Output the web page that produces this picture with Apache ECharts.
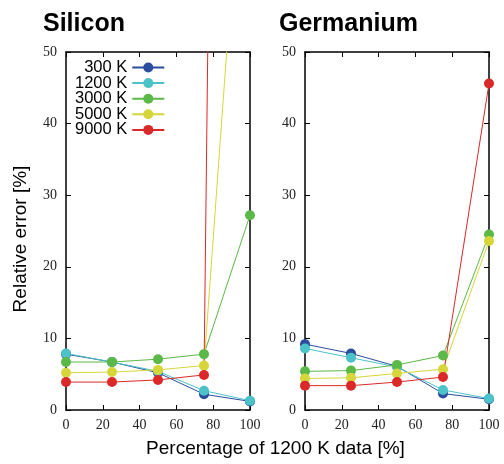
<!DOCTYPE html>
<html lang="en">
<head>
<meta charset="UTF-8" />
<title>Relative error</title>
<script src="https://cdn.jsdelivr.net/npm/echarts@6/dist/echarts.min.js"></script>
<style>
  html, body { margin: 0; padding: 0; background: #fff; }
  #main { width: 504px; height: 464px; }
</style>
</head>
<body>
<div id="main"></div>
<script>
// percentage of 1200 K data (x values)
var pct = [0, 25, 50, 75, 100];
var temps = ['300 K', '1200 K', '3000 K', '5000 K', '9000 K'];
var colors = ['#2a4d9e', '#4cc3c9', '#5bb947', '#d6d63a', '#db2828'];

// relative error [%], Silicon
var si300 = [7.8, 6.7, 5.2, 2.2, 1.2];
var si1200 = [7.9, 6.7, 5.4, 2.7, 1.3];
var si3000 = [6.7, 6.7, 7.1, 7.8, 27.2];
var si5000 = [5.2, 5.3, 5.6, 6.2, 95];
var si9000 = [3.9, 3.9, 4.2, 4.9, 560];

// relative error [%], Germanium
var ge300 = [9.2, 7.9, 6.1, 2.3, 1.5];
var ge1200 = [8.6, 7.3, 6.0, 2.8, 1.6];
var ge3000 = [5.4, 5.5, 6.3, 7.6, 24.5];
var ge5000 = [4.4, 4.5, 5.1, 5.7, 23.6];
var ge9000 = [3.4, 3.4, 3.9, 4.6, 45.6];

var siData = [si300, si1200, si3000, si5000, si9000];
var geData = [ge300, ge1200, ge3000, ge5000, ge9000];

var tickFont = 'Liberation Serif';
var textFont = 'Liberation Sans';

function xAxisFor(gridIndex, top) {
  return {
    type: 'value', gridIndex: gridIndex, position: top ? 'top' : 'bottom',
    min: 0, max: 100, interval: 20,
    axisLine: { show: true, onZero: false, lineStyle: { color: '#000', width: 1.5 } },
    axisTick: { show: true, inside: true, length: 5, lineStyle: { color: '#000', width: 1 } },
    axisLabel: { show: !top, margin: 8, color: '#222', fontSize: 14, fontFamily: tickFont },
    splitLine: { show: false }
  };
}
function yAxisFor(gridIndex, right) {
  return {
    type: 'value', gridIndex: gridIndex, position: right ? 'right' : 'left',
    min: 0, max: 50, interval: 10,
    axisLine: { show: true, onZero: false, lineStyle: { color: '#000', width: 1.5 } },
    axisTick: { show: true, inside: true, length: 5, lineStyle: { color: '#000', width: 1 } },
    axisLabel: { show: !right, margin: 9, color: '#222', fontSize: 14, fontFamily: tickFont },
    splitLine: { show: false }
  };
}

var series = [];
[siData, geData].forEach(function (set, g) {
  set.forEach(function (vals, i) {
    series.push({
      name: temps[i],
      type: 'line',
      xAxisIndex: g * 2,
      yAxisIndex: g * 2,
      data: pct.map(function (p, k) { return [p, vals[k]]; }),
      symbol: 'circle',
      symbolSize: 10,
      showAllSymbol: true,
      clip: true,
      lineStyle: { color: colors[i], width: 1 },
      itemStyle: { color: colors[i] },
      emphasis: { disabled: true },
      animation: false
    });
  });
});

var chart = echarts.init(document.getElementById('main'));
chart.setOption({
  backgroundColor: '#fff',
  animation: false,
  grid: [
    { left: 66, top: 52, width: 184, height: 358 },
    { left: 305, top: 52, width: 184, height: 358 }
  ],
  xAxis: [xAxisFor(0, false), xAxisFor(0, true), xAxisFor(1, false), xAxisFor(1, true)],
  yAxis: [yAxisFor(0, false), yAxisFor(0, true), yAxisFor(1, false), yAxisFor(1, true)],
  legend: {
    data: temps,
    orient: 'vertical',
    align: 'right',
    left: 75,
    top: 59,
    padding: 0,
    itemWidth: 32,
    itemHeight: 12.5,
    itemGap: -1.4,
    textStyle: { fontSize: 16.5, fontFamily: textFont, color: '#000', lineHeight: 15 }
  },
  graphic: [
    { type: 'text', x: 43, y: 24, style: { text: 'Silicon', font: 'bold 25px ' + textFont, fill: '#000', textVerticalAlign: 'middle' } },
    { type: 'text', x: 279, y: 24, style: { text: 'Germanium', font: 'bold 25px ' + textFont, fill: '#000', textVerticalAlign: 'middle' } },
    { type: 'text', x: 275.5, y: 449, style: { text: 'Percentage of 1200 K data [%]', font: '19px ' + textFont, fill: '#000', textAlign: 'center', textVerticalAlign: 'middle' } },
    { type: 'text', x: 21, y: 239, rotation: Math.PI / 2, style: { text: 'Relative error [%]', font: '19px ' + textFont, fill: '#000', textAlign: 'center', textVerticalAlign: 'middle' } }
  ],
  series: series
});
</script>
</body>
</html>
